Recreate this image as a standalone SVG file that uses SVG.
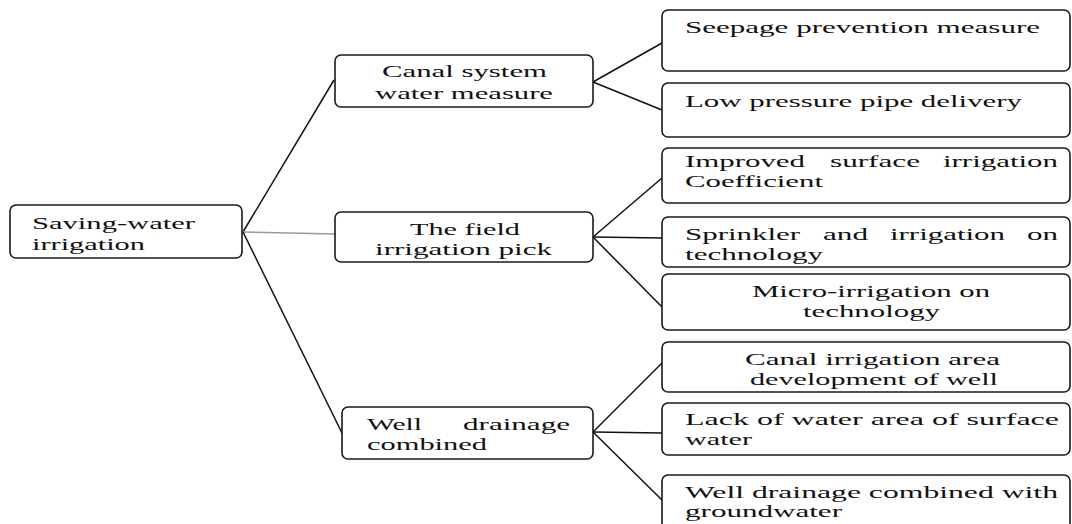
<svg xmlns="http://www.w3.org/2000/svg" width="1072" height="524" viewBox="0 0 1072 524">
<style>
.box{fill:#fff;stroke:#1a1a1a;stroke-width:1.6}
.ln{stroke:#111;stroke-width:1.5;fill:none}
.gr{stroke:#9a9a9a;stroke-width:1.5;fill:none}
text{font-family:"Liberation Serif","Times New Roman",serif;font-size:16px;fill:#111}
</style>
<rect width="1072" height="524" fill="#fff"/>
<g id="connectors">
<line class="ln" x1="243" y1="232" x2="334" y2="80"/>
<line class="gr" x1="243" y1="232" x2="335" y2="234"/>
<line class="ln" x1="243" y1="232" x2="342" y2="433"/>
<line class="ln" x1="593" y1="82" x2="662" y2="43"/>
<line class="ln" x1="593" y1="82" x2="662" y2="110"/>
<line class="ln" x1="593" y1="237" x2="662" y2="178"/>
<line class="ln" x1="593" y1="237" x2="662" y2="238"/>
<line class="ln" x1="593" y1="237" x2="662" y2="307"/>
<line class="ln" x1="593" y1="432" x2="662" y2="363"/>
<line class="ln" x1="593" y1="432" x2="662" y2="433"/>
<line class="ln" x1="593" y1="432" x2="662" y2="500"/>
<line x1="670" y1="340" x2="1072" y2="340" stroke="#e2e2e2" stroke-width="1"/>
</g>
<g id="root">
<rect class="box" x="10" y="205" width="232" height="53" rx="6"/>
<text><tspan x="32" y="229" textLength="163" lengthAdjust="spacingAndGlyphs">Saving-water</tspan><tspan x="32" y="250" textLength="113" lengthAdjust="spacingAndGlyphs">irrigation</tspan></text>
</g>
<g id="canal">
<rect class="box" x="335" y="55" width="258" height="52" rx="6"/>
<text><tspan x="382" y="77" textLength="165" lengthAdjust="spacingAndGlyphs">Canal system</tspan><tspan x="375" y="99" textLength="178" lengthAdjust="spacingAndGlyphs">water measure</tspan></text>
</g>
<g id="field">
<rect class="box" x="335" y="212" width="258" height="50" rx="6"/>
<text><tspan x="410" y="235" textLength="110" lengthAdjust="spacingAndGlyphs">The field</tspan><tspan x="375" y="255" textLength="177" lengthAdjust="spacingAndGlyphs">irrigation pick</tspan></text>
</g>
<g id="well">
<rect class="box" x="342" y="407" width="251" height="52" rx="6"/>
<text x="367" y="430" textLength="55" lengthAdjust="spacingAndGlyphs">Well</text>
<text x="463" y="430" textLength="107" lengthAdjust="spacingAndGlyphs">drainage</text>
<text x="367" y="450" textLength="120" lengthAdjust="spacingAndGlyphs">combined</text>
</g>
<g id="seepage">
<rect class="box" x="662" y="10" width="408" height="61" rx="6"/>
<text><tspan x="685" y="33" textLength="355" lengthAdjust="spacingAndGlyphs">Seepage prevention measure</tspan></text>
</g>
<g id="lowpressure">
<rect class="box" x="662" y="83" width="408" height="54" rx="6"/>
<text><tspan x="685" y="107" textLength="337" lengthAdjust="spacingAndGlyphs">Low pressure pipe delivery</tspan></text>
</g>
<g id="improved">
<rect class="box" x="662" y="148" width="408" height="55" rx="6"/>
<text><tspan x="685" y="167" textLength="120" lengthAdjust="spacingAndGlyphs">Improved</tspan> <tspan x="830" y="167" textLength="90" lengthAdjust="spacingAndGlyphs">surface</tspan> <tspan x="943" y="167" textLength="115" lengthAdjust="spacingAndGlyphs">irrigation</tspan><tspan x="685" y="187" textLength="138" lengthAdjust="spacingAndGlyphs">Coefficient</tspan></text>
</g>
<g id="sprinkler">
<rect class="box" x="662" y="217" width="408" height="50" rx="6"/>
<text><tspan x="685" y="240" textLength="115" lengthAdjust="spacingAndGlyphs">Sprinkler</tspan> <tspan x="823" y="240" textLength="45" lengthAdjust="spacingAndGlyphs">and</tspan> <tspan x="890" y="240" textLength="115" lengthAdjust="spacingAndGlyphs">irrigation</tspan> <tspan x="1027" y="240" textLength="31" lengthAdjust="spacingAndGlyphs">on</tspan><tspan x="685" y="260" textLength="138" lengthAdjust="spacingAndGlyphs">technology</tspan></text>
</g>
<g id="micro">
<rect class="box" x="662" y="274" width="408" height="56" rx="6"/>
<text><tspan x="752" y="297" textLength="238" lengthAdjust="spacingAndGlyphs">Micro-irrigation on</tspan><tspan x="803" y="317" textLength="137" lengthAdjust="spacingAndGlyphs">technology</tspan></text>
</g>
<g id="canalirrigation">
<rect class="box" x="662" y="342" width="408" height="50" rx="6"/>
<text><tspan x="745" y="365" textLength="255" lengthAdjust="spacingAndGlyphs">Canal irrigation area</tspan><tspan x="750" y="385" textLength="248" lengthAdjust="spacingAndGlyphs">development of well</tspan></text>
</g>
<g id="lack">
<rect class="box" x="662" y="403" width="408" height="52" rx="6"/>
<text><tspan x="685" y="425" textLength="374" lengthAdjust="spacingAndGlyphs">Lack of water area of surface</tspan><tspan x="685" y="445" textLength="67" lengthAdjust="spacingAndGlyphs">water</tspan></text>
</g>
<g id="groundwater">
<rect class="box" x="662" y="475" width="408" height="65" rx="6"/>
<text><tspan x="685" y="498" textLength="373" lengthAdjust="spacingAndGlyphs">Well drainage combined with</tspan><tspan x="685" y="517" textLength="157" lengthAdjust="spacingAndGlyphs">groundwater</tspan></text>
</g>
</svg>
